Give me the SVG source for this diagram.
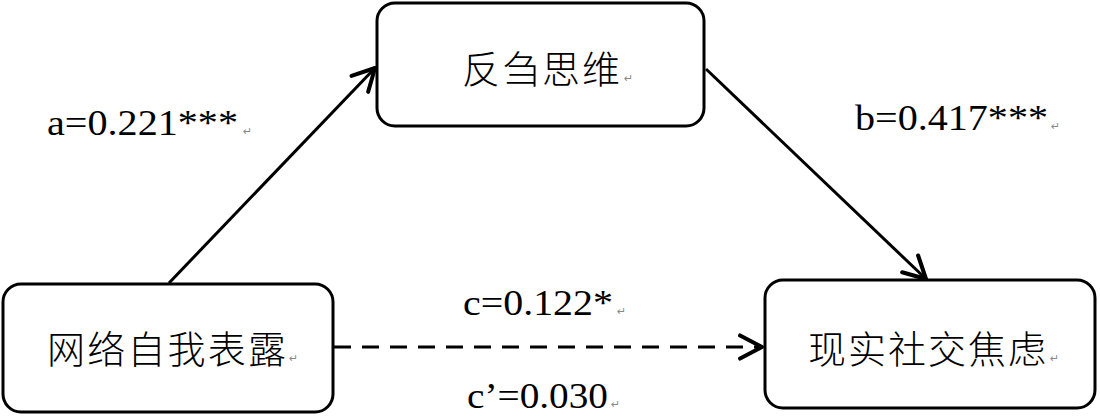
<svg xmlns="http://www.w3.org/2000/svg" width="1100" height="416" viewBox="0 0 1100 416">
<style>
.box{fill:#fff;stroke:#000;stroke-width:3}
.cn{font-family:"Noto Sans CJK SC","Noto Sans",sans-serif;font-size:38px;font-weight:300;fill:#000;letter-spacing:2px}
.num{font-family:"Liberation Serif","Times New Roman",serif;font-size:35px;fill:#000}
.pm{font-family:"DejaVu Sans",sans-serif;font-size:11px;fill:#888}
.edge{fill:none;stroke:#000;stroke-width:3}
</style>
<defs>
<marker id="arr" markerUnits="userSpaceOnUse" markerWidth="30" markerHeight="30" viewBox="-22 -12 26 24" refX="0" refY="0" orient="auto">
<path d="M-19,-10 L0,0 L-19,10" fill="none" stroke="#000" stroke-width="3.5" stroke-linecap="round" stroke-linejoin="round"/>
</marker>
</defs>
<g id="connectors">
<line class="edge" x1="169" y1="283" x2="375" y2="68" marker-end="url(#arr)"/>
<line class="edge" x1="706" y1="69" x2="926" y2="279" marker-end="url(#arr)"/>
<line class="edge" x1="334" y1="347" x2="762" y2="347" stroke-width="4" stroke-dasharray="17,11" marker-end="url(#arr)"/>
</g>
<g id="node-fanchu">
<rect class="box" x="377" y="3" width="327" height="123" rx="18"/>
<text class="cn" x="462" y="83" textLength="160">反刍思维</text>
<text class="pm" x="624" y="82">↵</text>
</g>
<g id="node-wangluo">
<rect class="box" x="3" y="284" width="330" height="128" rx="18"/>
<text class="cn" x="47" y="363" textLength="241">网络自我表露</text>
<text class="pm" x="289" y="362">↵</text>
</g>
<g id="node-xianshi">
<rect class="box" x="765" y="280" width="330" height="128" rx="18"/>
<text class="cn" x="808" y="363" textLength="240">现实社交焦虑</text>
<text class="pm" x="1050" y="362">↵</text>
</g>
<g id="labels">
<text class="num" x="47" y="135" textLength="191" lengthAdjust="spacingAndGlyphs">a=0.221***</text>
<text class="pm" x="243" y="135">↵</text>
<text class="num" x="855" y="130" textLength="193" lengthAdjust="spacingAndGlyphs">b=0.417***</text>
<text class="pm" x="1051" y="130">↵</text>
<text class="num" x="463" y="315" textLength="150" lengthAdjust="spacingAndGlyphs">c=0.122*</text>
<text class="pm" x="617" y="315">↵</text>
<text class="num" x="467" y="408" textLength="141" lengthAdjust="spacingAndGlyphs">c’=0.030</text>
<text class="pm" x="611" y="408">↵</text>
</g>
</svg>
